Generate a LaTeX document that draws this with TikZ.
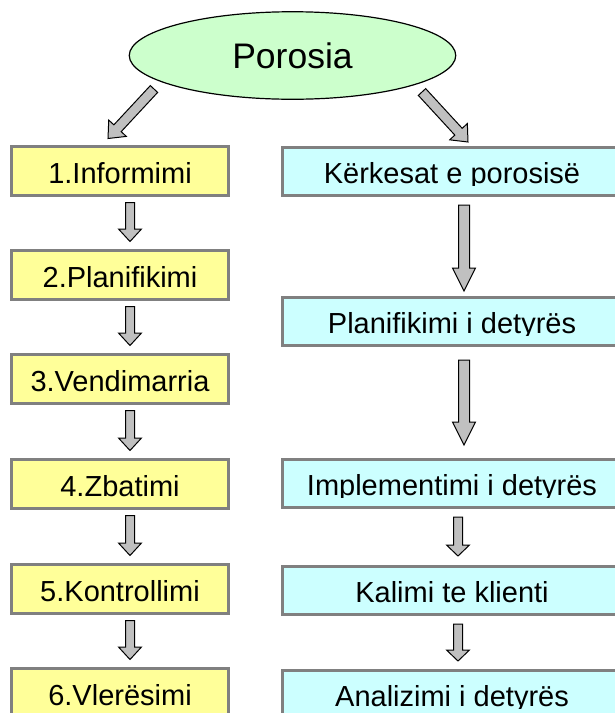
\documentclass[tikz,border=0pt]{standalone}
\usepackage{fontspec}
\setmainfont{Liberation Sans}
\usetikzlibrary{calc,shapes.geometric}
\definecolor{lyellow}{HTML}{FFFF99}
\definecolor{lcyan}{HTML}{CCFFFF}
\definecolor{lgreen}{HTML}{CCFFCC}
\definecolor{bordergray}{HTML}{808080}
\definecolor{arrowgray}{HTML}{C0C0C0}
\newcommand\boxfont{\fontsize{29}{30}\selectfont}
% block arrow: #1 start, #2 tip, #3 half shaft, #4 half head, #5 head length
\newcommand\blockarr[5]{%
  \coordinate (hb) at ($(#2)!#5!(#1)$);
  \draw[barrow] ($(#1)!#3!90:(#2)$) -- ($(hb)!#3!90:(#2)$) -- ($(hb)!#4!90:(#2)$)
    -- (#2) -- ($(hb)!#4!-90:(#2)$) -- ($(hb)!#3!-90:(#2)$) -- ($(#1)!#3!-90:(#2)$) -- cycle;
}
\tikzset{
  boxtext/.style={path picture={
      \clip ([yshift=-14.5pt]path picture bounding box.west) rectangle (path picture bounding box.north east);
      \node[font=\boxfont, anchor=base, inner sep=0pt] at ([yshift=-12pt]path picture bounding box.center) {#1};}},
  lbox/.style={rectangle, draw=bordergray, line width=3pt, fill=lyellow,
    minimum width=217pt, minimum height=49pt, inner sep=0pt, boxtext={#1}},
  rbox/.style={rectangle, draw=bordergray, line width=3pt, fill=lcyan,
    minimum width=339pt, minimum height=48pt, inner sep=0pt, boxtext={#1}},
  barrow/.style={fill=arrowgray, draw=black, line width=1pt, line join=miter},
}
\begin{document}
\begin{tikzpicture}[x=1pt, y=-1pt]
\useasboundingbox (0,0) rectangle (615,713);
\node[ellipse, draw=black, line width=1.2pt, fill=lgreen, minimum width=326.5pt,
  minimum height=87.5pt, inner sep=0pt, font=\fontsize{35.5}{36}\selectfont] (por) at (292.5,55.5) {Porosia};

\node[lbox={1.Informimi}] (l1) at (120,171) {};
\node[lbox={2.Planifikimi}] (l2) at (120,275) {};
\node[lbox={3.Vendimarria}] (l3) at (120,379) {};
\node[lbox={4.Zbatimi}] (l4) at (120,484) {};
\node[lbox={5.Kontrollimi}] (l5) at (120,589) {};
\node[lbox={6.Vlerësimi}] (l6) at (120,693) {};

\node[rbox={Kërkesat e porosisë}] (r1) at (452,171) {};
\node[rbox={Planifikimi i detyrës}] (r2) at (452,321) {};
\node[rbox={Implementimi i detyrës}] (r3) at (452,483) {};
\node[rbox={Kalimi te klienti}] (r4) at (452,590) {};
\node[rbox={Analizimi i detyrës}] (r5) at (452,694) {};

% diagonal arrows
\coordinate (dls) at ($(por.center)+(-138.5pt,-33.5pt)$);
\coordinate (dle) at ([xshift=-12pt,yshift=6.5pt]l1.north);
\blockarr{dls}{dle}{5pt}{12pt}{14pt}
\coordinate (drs) at ($(por.center)+(129.5pt,-36.5pt)$);
\coordinate (dre) at ([xshift=16pt,yshift=3.5pt]r1.north);
\blockarr{drs}{dre}{5pt}{12pt}{14pt}

% left arrows
\foreach \a/\b in {l1/l2, l2/l3, l3/l4, l4/l5, l5/l6}{
  \coordinate (s) at ([xshift=10pt,yshift=-5.5pt]\a.south);
  \coordinate (e) at ([xshift=10pt,yshift=7.5pt]\b.north);
  \blockarr{s}{e}{4.5pt}{11.5pt}{12.5pt}
}
% right arrows
\coordinate (s) at ([xshift=12pt,yshift=-8.5pt]r1.south);
\coordinate (e) at ([xshift=12pt,yshift=4.5pt]r2.north);
\blockarr{s}{e}{5.5pt}{11.5pt}{23pt}
\coordinate (s) at ([xshift=12pt,yshift=-13.5pt]r2.south);
\coordinate (e) at ([xshift=12pt,yshift=12.5pt]r3.north);
\blockarr{s}{e}{5.5pt}{11.5pt}{23pt}
\coordinate (s) at ([xshift=6pt,yshift=-8.5pt]r3.south);
\coordinate (e) at ([xshift=6pt,yshift=8.5pt]r4.north);
\blockarr{s}{e}{4.5pt}{11.5pt}{11pt}
\coordinate (s) at ([xshift=6pt,yshift=-8.5pt]r4.south);
\coordinate (e) at ([xshift=6pt,yshift=7.5pt]r5.north);
\blockarr{s}{e}{4.5pt}{11.5pt}{11pt}
\end{tikzpicture}
\end{document}
